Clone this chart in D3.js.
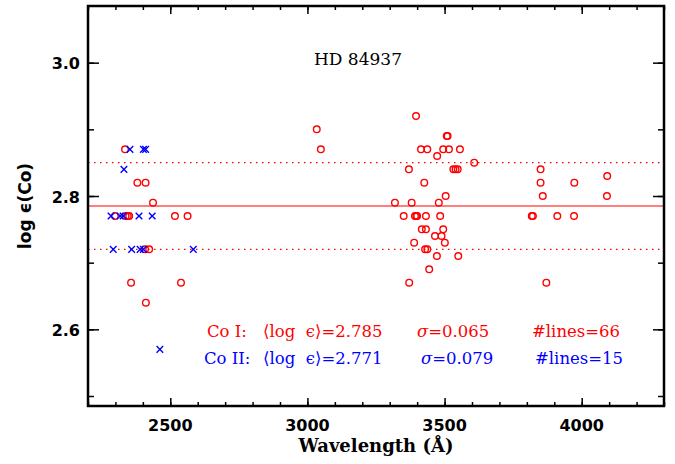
<!DOCTYPE html>
<html>
<head>
<meta charset="utf-8">
<script src="https://cdn.jsdelivr.net/npm/d3@7"></script>
<style>
  body { margin: 0; background: #fff; }
  svg { display: block; }
</style>
</head>
<body>
<svg width="675" height="464"></svg>
<script>
// Co I lines: wavelength (A) and abundance
let coIWave = [2335, 2380, 2410, 2437, 2298, 2337, 2345, 2350, 2517, 2563, 2408, 2423, 2357, 2539, 2411,
	3034, 3049,
	3396, 3508, 3511, 3414, 3437, 3495, 3516, 3556, 3473, 3608, 3370, 3532, 3540, 3548, 3426, 3504,
	3319, 3380, 3479, 3351, 3392, 3397, 3400, 3432, 3484, 3417, 3432, 3495, 3465, 3489, 3389, 3501,
	3429, 3437, 3472, 3550, 3444, 3371,
	3850, 3850, 3973, 4093, 3858, 4092, 3818, 3822, 3911, 3972, 3871];
let coIVal = [2.87, 2.82, 2.82, 2.79, 2.77, 2.77, 2.77, 2.77, 2.77, 2.77, 2.72, 2.72, 2.67, 2.67, 2.64,
	2.90, 2.87,
	2.92, 2.89, 2.89, 2.87, 2.87, 2.87, 2.87, 2.87, 2.86, 2.85, 2.84, 2.84, 2.84, 2.84, 2.82, 2.80,
	2.79, 2.79, 2.79, 2.77, 2.77, 2.77, 2.77, 2.77, 2.77, 2.75, 2.75, 2.75, 2.74, 2.74, 2.73, 2.73,
	2.72, 2.72, 2.71, 2.71, 2.69, 2.67,
	2.84, 2.82, 2.82, 2.83, 2.80, 2.80, 2.77, 2.77, 2.77, 2.77, 2.67];

// Co II lines
let coIIWave = [2353, 2402, 2410, 2331, 2284, 2317, 2328, 2386, 2434, 2292, 2359, 2390, 2402, 2584, 2462];
let coIIVal = [2.87, 2.87, 2.87, 2.84, 2.77, 2.77, 2.77, 2.77, 2.77, 2.72, 2.72, 2.72, 2.72, 2.72, 2.57];

let meanI = 2.785, sigI = 0.065, nI = 66;
let meanII = 2.771, sigII = 0.079, nII = 15;

let xMajor = [2500, 3000, 3500, 4000];
let yMajor = [2.6, 2.8, 3.0];

let svg = d3.select("svg"),
	pLeft = 88, pRight = 664, pTop = 6, pBottom = 406;

let x = d3.scaleLinear().domain([2200, 4300]).range([pLeft, pRight]);
let y = d3.scaleLinear().domain([meanI - 0.3, meanI + 0.3]).range([pBottom, pTop]);

let xMinor = d3.range(2200, 4301, 100);
let yMinor = d3.range(25, 31).map(d => d / 10);

let sans = "'DejaVu Sans', sans-serif",
	serif = "'DejaVu Serif', serif";

// reference lines
let gline = svg.append("g").attr('class', 'ref');
gline.selectAll("line")
		.data([meanI + sigI, meanI - sigI])
	.enter().append("line")
		.attr("x1", pLeft).attr("x2", pRight)
		.attr("y1", d => y(d)).attr("y2", d => y(d))
		.attr("stroke", "#ff0000")
		.attr("stroke-width", 1.3)
		.attr("stroke-dasharray", "1.5,4.5");
gline.append("line")
	.attr("x1", pLeft).attr("x2", pRight)
	.attr("y1", y(meanI)).attr("y2", y(meanI))
	.attr("stroke", "#ff0000")
	.attr("stroke-width", 1.2);

// axes
function ticks(axis, vals, size) {
	return axis.tickValues(vals).tickSize(size).tickFormat("");
}
let gax = svg.append("g").attr('class', 'axes');
gax.append("g").attr("transform", `translate(0,${pBottom})`).call(ticks(d3.axisBottom(x), xMinor, -4));
gax.append("g").attr("transform", `translate(0,${pBottom})`).call(ticks(d3.axisBottom(x), xMajor, -8));
gax.append("g").attr("transform", `translate(0,${pTop})`).call(ticks(d3.axisTop(x), xMinor, -4));
gax.append("g").attr("transform", `translate(0,${pTop})`).call(ticks(d3.axisTop(x), xMajor, -8));
gax.append("g").attr("transform", `translate(${pLeft},0)`).call(ticks(d3.axisLeft(y), yMinor, -6));
gax.append("g").attr("transform", `translate(${pLeft},0)`).call(ticks(d3.axisLeft(y), yMajor, -11));
gax.append("g").attr("transform", `translate(${pRight},0)`).call(ticks(d3.axisRight(y), yMinor, -6));
gax.append("g").attr("transform", `translate(${pRight},0)`).call(ticks(d3.axisRight(y), yMajor, -11));
gax.selectAll(".domain").remove();
gax.selectAll(".tick line").attr("stroke", "#000").attr("stroke-width", 1.5);
gax.append("rect")
	.attr("x", pLeft).attr("y", pTop)
	.attr("width", pRight - pLeft).attr("height", pBottom - pTop)
	.attr("fill", "none").attr("stroke", "#000").attr("stroke-width", 2.5);

// tick labels
svg.append("g").selectAll("text")
		.data(xMajor)
	.enter().append("text")
		.attr("x", d => x(d)).attr("y", pBottom + 25)
		.attr("text-anchor", "middle")
		.style("font", `bold 16px ${sans}`)
		.text(d => d);
svg.append("g").selectAll("text")
		.data(yMajor)
	.enter().append("text")
		.attr("x", pLeft - 8).attr("y", d => y(d) + 6.5)
		.attr("text-anchor", "end")
		.style("font", `bold 16px ${sans}`)
		.text(d => d3.format(".1f")(d));

// axis titles
svg.append("text")
	.attr("x", (pLeft + pRight) / 2).attr("y", 452)
	.attr("text-anchor", "middle")
	.style("font", `bold 18px ${serif}`)
	.text("Wavelength (Å)");
svg.append("text")
	.attr("transform", `translate(31,${(pTop + pBottom) / 2}) rotate(-90)`)
	.attr("text-anchor", "middle")
	.style("font", `bold 17px ${sans}`)
	.text("log ϵ(Co)");

// points
let gobj = svg.append("g").attr('class', 'obj');
gobj.selectAll("circle")
		.data(coIWave.map((w, i) => [w, coIVal[i]]))
	.enter().append("circle")
		.attr("r", 3.3)
		.attr("fill", "none")
		.attr("stroke", "#ff0000")
		.attr("stroke-width", 1.4)
		.attr("cx", c => x(c[0]))
		.attr("cy", c => y(c[1]));
let s = 3.3;
gobj.selectAll("path")
		.data(coIIWave.map((w, i) => [w, coIIVal[i]]))
	.enter().append("path")
		.attr("stroke", "#0000ff")
		.attr("stroke-width", 1.4)
		.attr("d", c => {
			let cx = x(c[0]), cy = y(c[1]);
			return `M${cx - s},${cy - s}L${cx + s},${cy + s}M${cx - s},${cy + s}L${cx + s},${cy - s}`;
		});

// labels
svg.append("text")
	.attr("x", 358).attr("y", 65)
	.attr("text-anchor", "middle")
	.style("font", `17px ${serif}`)
	.text("HD 84937");

let rows = [
	{name: "Co I:", mean: meanI, sig: sigI, n: nI, color: "#ff0000", y: 337, xs: [207, 263, 417, 532]},
	{name: "Co II:", mean: meanII, sig: sigII, n: nII, color: "#0000ff", y: 364, xs: [204, 263, 421, 535]}
];
rows.forEach(r => {
	let g = svg.append("g").attr("fill", r.color).style("font", `16.5px ${serif}`);
	g.append("text").attr("x", r.xs[0]).attr("y", r.y).text(r.name);
	g.append("text").attr("x", r.xs[1]).attr("y", r.y).attr("xml:space", "preserve")
		.text(`⟨log  ϵ⟩=${d3.format(".3f")(r.mean)}`);
	let t = g.append("text").attr("x", r.xs[2]).attr("y", r.y);
	t.append("tspan").style("font-style", "italic").text("σ");
	t.append("tspan").text(`=${d3.format(".3f")(r.sig)}`);
	g.append("text").attr("x", r.xs[3]).attr("y", r.y).text(`#lines=${r.n}`);
});
</script>
</body>
</html>
